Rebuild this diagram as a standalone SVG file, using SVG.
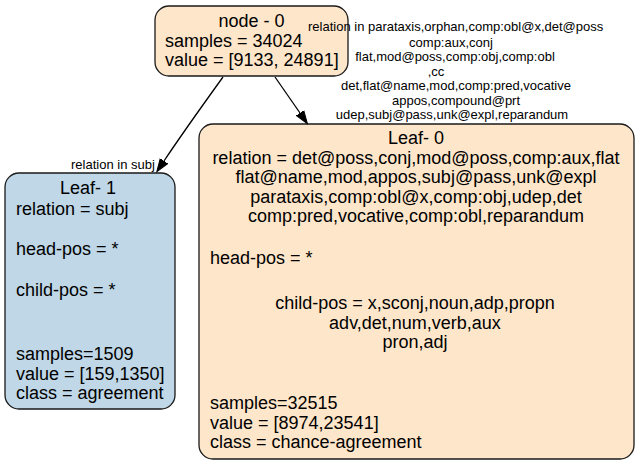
<svg xmlns="http://www.w3.org/2000/svg" width="638" height="465" viewBox="0 0 638 465">
<style>
.box{stroke:#1a1a1a;stroke-width:1.3}
.peach{fill:#fee6ca}
.blue{fill:#bfd7e6}
.t{font-family:"Liberation Sans",Arial,sans-serif;font-size:18px;fill:#000}
.c{text-anchor:middle}
.el{font-family:"Liberation Sans",Arial,sans-serif;font-size:13px;fill:#000}
.edge{fill:none;stroke:#000;stroke-width:1.3}
</style>
<defs>
<marker id="arr" markerUnits="userSpaceOnUse" markerWidth="14" markerHeight="12" refX="0" refY="5" orient="auto" viewBox="0 0 14 10">
<path d="M0,0.5 L13,5 L0,9.5 z" fill="#000" stroke="#000" stroke-width="1"/>
</marker>
</defs>
<g id="node0">
<rect class="box peach" x="155" y="6" width="193" height="70" rx="14"/>
<text class="t c" x="251.5" y="27">node - 0</text>
<text class="t" x="165" y="46.5">samples = 34024</text>
<text class="t" x="165" y="66">value = [9133, 24891]</text>
</g>
<g id="leaf1">
<rect class="box blue" x="5" y="173" width="170" height="236" rx="14"/>
<text class="t c" x="88" y="194">Leaf- 1</text>
<text class="t" x="16" y="215">relation = subj</text>
<text class="t" x="16" y="255">head-pos = *</text>
<text class="t" x="16" y="296">child-pos = *</text>
<text class="t" x="16" y="360">samples=1509</text>
<text class="t" x="16" y="379.5">value = [159,1350]</text>
<text class="t" x="16" y="399">class = agreement</text>
</g>
<g id="leaf0">
<rect class="box peach" x="199" y="124" width="435" height="335" rx="14"/>
<text class="t c" x="416" y="144">Leaf- 0</text>
<text class="t c" x="416" y="163.5">relation = det@poss,conj,mod@poss,comp:aux,flat</text>
<text class="t c" x="416" y="183">flat@name,mod,appos,subj@pass,unk@expl</text>
<text class="t c" x="416" y="202.5">parataxis,comp:obl@x,comp:obj,udep,det</text>
<text class="t c" x="416" y="222">comp:pred,vocative,comp:obl,reparandum</text>
<text class="t" x="210" y="264">head-pos = *</text>
<text class="t c" x="415" y="309">child-pos = x,sconj,noun,adp,propn</text>
<text class="t c" x="415" y="328.5">adv,det,num,verb,aux</text>
<text class="t c" x="415" y="348">pron,adj</text>
<text class="t" x="210" y="409">samples=32515</text>
<text class="t" x="210" y="428.5">value = [8974,23541]</text>
<text class="t" x="210" y="448">class = chance-agreement</text>
</g>
<g id="edges">
<path class="edge" d="M223,77 C210,95 180,137 164,161" marker-end="url(#arr)"/>
<path class="edge" d="M275,77 L300,113" marker-end="url(#arr)"/>
<text class="el" x="71" y="169">relation in subj</text>
<text class="el" x="308" y="31">relation in parataxis,orphan,comp:obl@x,det@poss</text>
<text class="el c" x="451" y="47">comp:aux,conj</text>
<text class="el c" x="455" y="61">flat,mod@poss,comp:obj,comp:obl</text>
<text class="el c" x="436" y="75.5">,cc</text>
<text class="el c" x="456" y="90">det,flat@name,mod,comp:pred,vocative</text>
<text class="el c" x="456" y="104.5">appos,compound@prt</text>
<text class="el c" x="452" y="119">udep,subj@pass,unk@expl,reparandum</text>
</g>
</svg>
